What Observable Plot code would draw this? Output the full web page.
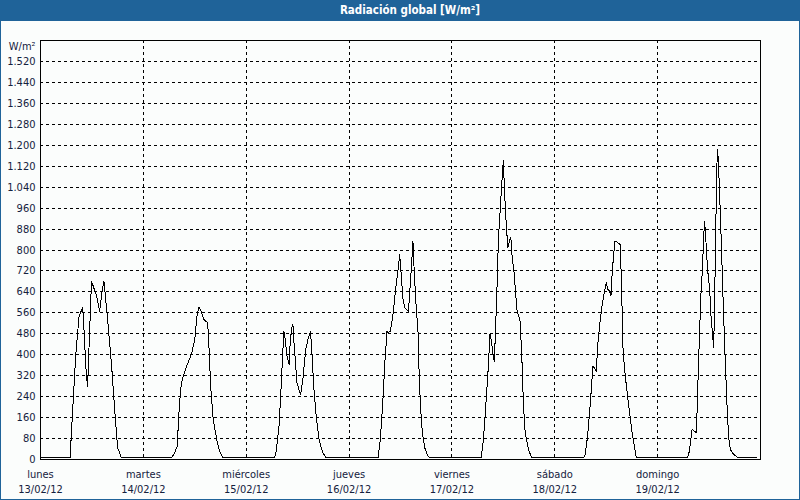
<!DOCTYPE html>
<html><head><meta charset="utf-8">
<script src="https://cdn.jsdelivr.net/npm/d3@7"></script>
<script src="https://cdn.jsdelivr.net/npm/@observablehq/plot@0.6"></script>
<style>
html,body{margin:0;padding:0;background:#fbfdfc;}
#wrap{width:800px;height:500px;box-sizing:border-box;border:1px solid #1f6399;border-top:none;background:#fbfdfc;font-family:"DejaVu Sans Condensed","DejaVu Sans",sans-serif;overflow:hidden;}
#title{height:21px;background:#1f6399;color:#fff;font-weight:bold;font-size:11.5px;line-height:21px;text-align:center;margin:0 -1px;padding-left:20px;box-sizing:border-box;}
#chart svg{display:block;}
</style></head>
<body>
<div id="wrap"><div id="title">Radiación global [W/m²]</div><div id="chart"></div></div>
<script>
// Day labels
const dayNames = ["lunes","martes","miércoles","jueves","viernes","sábado","domingo"];
const dayDates = ["13/02/12","14/02/12","15/02/12","16/02/12","17/02/12","18/02/12","19/02/12"];
// Y tick values
const yTicks = [0,80,160,240,320,400,480,560,640,720,800,880,960,1040,1120,1200,1280,1360,1440,1520];

// Readings per day: [hour of day, W/m²]
const lunes = [[0,6],[6.9,6],[7.6,216],[8.2,395],[9.0,547],[9.8,579],[9.95,560],[10.7,318],[11.0,280],[11.1,332],[11.9,681],[12.7,643],[13.1,624],[13.8,566],[14.4,649],[14.8,681],[15.0,649],[15.8,509],[16.6,356],[17.3,191],[18.0,45],[18.9,6]];
const martes = [[6.6,6],[7.3,26],[7.9,51],[8.3,178],[8.7,267],[9.1,306],[10.1,356],[11.2,401],[12.0,458],[12.5,547],[13.0,583],[13.6,560],[14.1,535],[15.0,522],[15.3,433],[15.7,280],[16.3,153],[17.2,70],[17.8,32],[18.6,6]];
const miercoles = [[6.65,6],[7.05,38],[7.65,127],[8.0,229],[8.45,382],[8.8,490],[9.05,465],[9.5,395],[10.0,363],[10.3,458],[10.7,509],[10.9,516],[11.15,446],[11.85,293],[12.3,267],[12.7,248],[13.25,312],[13.9,420],[14.4,458],[15.0,487],[15.3,420],[15.75,280],[16.4,153],[17.0,76],[17.8,28],[18.7,6]];
const jueves = [[6.75,6],[7.3,76],[7.9,229],[8.4,382],[8.85,490],[9.15,484],[9.65,490],[10.25,554],[10.85,649],[11.4,719],[11.8,783],[12.1,719],[12.6,611],[13.05,579],[13.85,566],[14.15,637],[14.55,738],[14.9,834],[15.15,738],[15.55,611],[16.1,484],[16.3,356],[16.65,204],[17.1,102],[17.65,45],[18.4,13],[18.9,6]];
const viernes = [[6.8,6],[7.35,76],[8.0,229],[8.5,356],[8.9,484],[9.15,458],[9.55,407],[9.85,375],[10.1,458],[10.5,649],[10.85,840],[11.4,993],[11.8,1095],[12.0,1143],[12.25,1031],[12.65,904],[13.05,808],[13.4,834],[13.75,847],[14.05,776],[14.5,713],[15.15,573],[15.9,528],[16.3,395],[16.7,204],[17.1,102],[17.85,38],[18.65,6]];
const sabado = [[6.7,6],[7.1,19],[7.65,89],[8.3,216],[8.9,356],[9.2,350],[9.7,337],[10.0,433],[10.45,509],[11.0,585],[11.55,637],[12.0,675],[12.4,649],[12.8,643],[13.1,624],[13.4,713],[13.7,776],[14.05,834],[14.5,830],[15.3,821],[15.6,643],[15.95,407],[16.45,318],[17.25,204],[18.05,102],[19.0,10],[19.3,6]];
const domingo = [[6.85,6],[7.25,19],[7.65,64],[8.05,115],[8.55,108],[9.05,102],[9.35,267],[9.8,496],[10.15,649],[10.45,726],[10.75,853],[10.95,910],[11.2,853],[11.65,726],[12.15,649],[12.45,547],[12.85,471],[13.05,427],[13.25,547],[13.55,878],[13.85,1133],[14.0,1184],[14.25,1107],[14.65,929],[15.0,751],[15.4,547],[15.8,369],[16.2,204],[16.55,89],[16.95,38],[17.75,19],[18.9,6],[23.2,6]];

const t0 = Date.UTC(2012, 1, 13);
const H = 3600e3;
const perDay = [lunes, martes, miercoles, jueves, viernes, sabado, domingo];
const series = perDay.flatMap((pts, i) => pts.map(([h, w]) => ({date: new Date(t0 + (i * 24 + h) * H), value: w})));
const dayTicks = dayNames.map((_, i) => new Date(t0 + i * 24 * H));
const idx = d => dayTicks.findIndex(t => +t === +d);

const fmt = d3.formatLocale({decimal: ",", thousands: ".", grouping: [3], currency: ["", "€"]}).format(",d");
const ink = "#14213d";

const chart = Plot.plot({
  width: 798,
  height: 478,
  marginLeft: 39,
  marginRight: 39,
  marginTop: 19,
  marginBottom: 40,
  style: {background: "#fbfdfc", fontFamily: '"DejaVu Sans Condensed","DejaVu Sans",sans-serif', fontSize: "11px", color: ink},
  x: {type: "utc", domain: [new Date(t0), new Date(t0 + 7 * 24 * H)]},
  y: {domain: [0, 1600]},
  marks: [
    Plot.ruleY(yTicks, {stroke: "#000", strokeDasharray: "3,3", shapeRendering: "crispEdges"}),
    Plot.ruleX(dayTicks.slice(1), {stroke: "#000", strokeDasharray: "3,3", shapeRendering: "crispEdges"}),
    Plot.line(series, {x: "date", y: "value", stroke: "#000", strokeWidth: 1, shapeRendering: "crispEdges"}),
    Plot.frame({stroke: "#000", shapeRendering: "crispEdges"}),
    Plot.axisY(yTicks, {tickFormat: fmt, tickSize: 0, tickPadding: 5, fill: ink, label: null}),
    Plot.axisX(dayTicks, {tickFormat: d => dayNames[idx(d)], tickSize: 0, tickPadding: 11, fill: ink, label: null}),
    Plot.axisX(dayTicks, {tickFormat: d => dayDates[idx(d)], tickSize: 0, tickPadding: 26, fill: ink, label: null}),
    Plot.text(["W/m²"], {frameAnchor: "top-left", textAnchor: "end", lineAnchor: "middle", dx: -5, dy: 6, fill: ink})
  ]
});
document.getElementById("chart").appendChild(chart);
</script>
</body></html>
